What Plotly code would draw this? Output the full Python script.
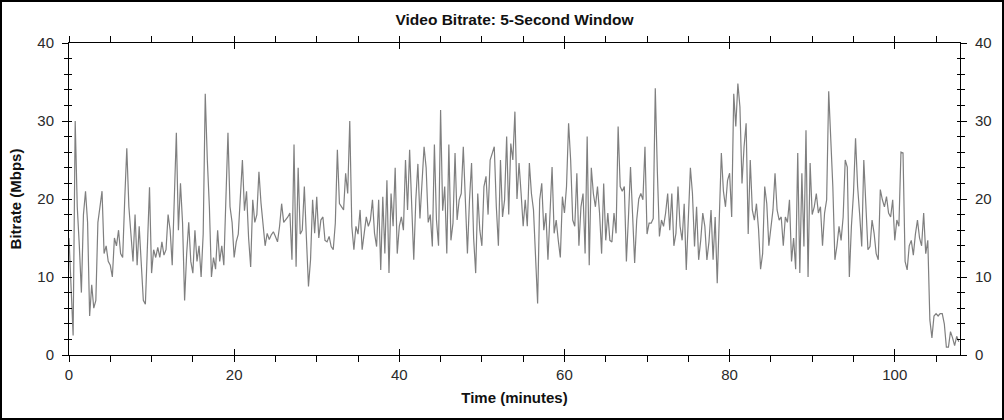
import plotly.graph_objects as go

# ---- data: bitrate (Mbps) sampled every 0.25 minute, split by time segment ----
step_min = 0.25

bitrate_00_21 = [
    15, 8, 2.5, 30, 19, 14, 8, 18, 21, 17,
    5, 9, 6, 7, 17, 19, 21, 13, 14, 12,
    11.5, 10, 15, 14, 16, 13, 12.5, 20, 26.5, 19,
    16, 12, 18, 11.5, 16.5, 12, 7, 6.5, 14, 21.5,
    10.5, 13.5, 12.5, 13.8, 12.5, 14.5, 12.8, 13.5, 18, 16,
    11.5, 21, 28.5, 16, 22, 17, 7, 13, 17, 12,
    10.5, 16, 12, 14, 10, 15.5, 33.5, 25, 19, 10,
    12.5, 11, 16, 12, 14, 11.5, 19, 28.5, 19, 17,
    12.5, 14.5, 15.5, 21, 25, 18.5, 21,
]
bitrate_22_43 = [
    15, 11.3, 19.9, 17, 18, 23.5, 19.5, 16.8, 14, 15.6,
    14.8, 15.4, 15.8, 15.2, 14.5, 16.5, 19.4, 17, 17.3, 17.7,
    18.2, 12.2, 27, 11.3, 24, 15.5, 16, 21.6, 15, 8.8,
    12.2, 19.9, 15.6, 20.3, 15, 17.3, 17.7, 14.7, 14.5, 15.2,
    13.9, 13.5, 16.9, 26.3, 19.4, 19, 18.6, 23.3, 20.7, 30,
    16.5, 13.5, 16.5, 15.5, 18.6, 13.5, 16, 17.7, 16.5, 17.3,
    19.9, 15.6, 13.9, 19.9, 10.9, 20.3, 13, 22.4, 10.5, 20.7,
    16.5, 24, 13, 16.5, 17.7, 16, 25, 18.6, 26.3, 18.5,
    12.2, 19.9, 24.5, 17.5, 22.9, 26.7,
]
bitrate_43_65 = [
    24, 17, 18, 13.9, 27, 17.3, 14, 31.4, 18.5, 21.6,
    13, 27, 14.7, 16.9, 25.9, 17.3, 19.9, 20.7, 26.7, 20.7,
    13, 19.9, 24.6, 15, 10.5, 20.7, 16, 14, 21.6, 22.9,
    18, 25, 26, 26.7, 19, 14, 25, 17.7, 19.9, 28,
    18, 27.1, 25, 31.2, 20, 24.6, 20.7, 16.5, 19.9, 16.5,
    24.6, 20.7, 18.6, 12.5, 6.6, 19.9, 22, 16, 18.2, 12.2,
    18.6, 24.1, 15.6, 17.3, 14.7, 12.5, 20.3, 18.2, 21.6, 29.7,
    25, 17.3, 16.5, 23.3, 14, 19, 20.7, 13, 28, 11.5,
    24, 20.7, 19, 21.6, 18.2, 13, 22, 14.7,
]
bitrate_65_87 = [
    18.2, 14.7, 14.5, 18.2, 15.6, 29.3, 21.6, 21, 21.6, 12,
    17.7, 24.1, 18, 11.8, 17.3, 20, 20.7, 19.9, 26.7, 15.5,
    16.9, 16.9, 17.5, 34.2, 23.5, 15.2, 17.3, 16.5, 18.2, 20.7,
    16, 20.7, 14, 15.6, 21.6, 16.5, 14.7, 19.4, 10.9, 17.3,
    24, 20.7, 13.9, 19, 12.2, 14.7, 18.2, 16.5, 12.2, 14.5,
    18.6, 12.2, 17.7, 9.2, 17.3, 25.9, 21, 19, 22.4, 23.3,
    17.7, 33.5, 29.3, 34.8, 31.8, 22, 26.7, 29.7, 15.5, 25,
    18.6, 17.3, 19.4, 16.2, 11, 13, 21.6, 19.4, 14, 16.5,
    18.6, 23.3, 18.6, 17.3, 17.7, 14, 17.7,
]
bitrate_87_108 = [
    17, 19.9, 12, 15, 11, 25.9, 10.5, 23.3, 13.9, 28.8,
    10, 24.6, 18, 19, 20.7, 18.2, 19, 14, 18.2, 19.9,
    33.8, 27, 21.6, 12.2, 14, 16.5, 14.7, 17.7, 25, 24.1,
    10, 16.5, 20.7, 27.8, 21.6, 18, 13.9, 25, 18, 13.5,
    13.9, 17.3, 15.6, 13, 12.2, 21.2, 19.9, 19, 20.3, 18.2,
    17.7, 19.9, 14.7, 17.3, 16.5, 26, 25.9, 12, 10.9, 14,
    14.7, 12.8, 15.5, 17.3, 15, 14, 18.2, 13, 14.7, 4.5,
    2.2, 5, 5.3, 5, 5.3, 5.3, 4, 1, 1, 3,
    2.2, 1.2, 2.4, 1.7,
]

bitrate = bitrate_00_21 + bitrate_22_43 + bitrate_43_65 + bitrate_65_87 + bitrate_87_108
time_min = [i * step_min for i in range(len(bitrate))]

x_ticks = [0, 20, 40, 60, 80, 100]
y_ticks = [0, 10, 20, 30, 40]
x_range = [0, 107.9]
y_range = [0, 40]

title_text = "Video Bitrate: 5-Second Window"
x_title = "Time (minutes)"
y_title = "Bitrate (Mbps)"

# ---- figure ----
W, H = 1004, 420
ML, MR, MT, MB = 69, 44, 43, 65
PW, PH = W - ML - MR, H - MT - MB
FONT = "Liberation Sans, Arial, sans-serif"
TICKFONT = dict(family=FONT, size=15, color="#2a2a2a")
LABELFONT = dict(family=FONT, size=15, color="#111")

fig = go.Figure()
fig.add_trace(go.Scatter(
    x=time_min, y=bitrate, mode="lines",
    line=dict(color="#7f7f7f", width=1.2), showlegend=False, hoverinfo="skip",
))
# invisible companion traces so that the extra (right / inner-tick) axes are drawn
for xa, ya in (("x", "y2"), ("x2", "y"), ("x", "y3")):
    fig.add_trace(go.Scatter(
        x=time_min[:1], y=bitrate[:1], mode="lines", xaxis=xa, yaxis=ya,
        line=dict(color="rgba(0,0,0,0)", width=0), showlegend=False, hoverinfo="skip",
    ))

axis_common = dict(
    showgrid=False, zeroline=False, showline=True, linecolor="black", linewidth=1,
    ticks="outside", ticklen=6, tickwidth=1, tickcolor="black",
    tickfont=TICKFONT,
)
inner_common = dict(
    showgrid=False, zeroline=False, showline=False, showticklabels=False,
    ticks="inside", tickwidth=1, tickcolor="black",
)

fig.update_layout(
    width=W, height=H,
    margin=dict(l=ML, r=MR, t=MT, b=MB, pad=0),
    paper_bgcolor="white", plot_bgcolor="white",
    title=dict(text=f"<b>{title_text}</b>", x=0.5, xref="paper", xanchor="center",
               y=1 - 20 / H, yref="container", yanchor="middle",
               font=dict(family=FONT, size=15.5, color="#111")),
    xaxis=dict(
        range=x_range, tickvals=x_ticks, mirror="allticks",
        minor=dict(dtick=5, tick0=0, ticks="outside", ticklen=4, tickcolor="black", showgrid=False),
        title=dict(text=f"<b>{x_title}</b>", font=LABELFONT, standoff=10),
        **axis_common,
    ),
    # inner half of the crossing major x ticks (bottom and top)
    xaxis2=dict(range=x_range, tickvals=x_ticks, overlaying="x", side="bottom", anchor="y",
                ticklen=6, mirror="ticks", **inner_common),
    yaxis=dict(
        range=y_range, tickvals=y_ticks, mirror=False, ticklabelstandoff=5,
        minor=dict(dtick=2, tick0=0, ticks="outside", ticklen=4, tickcolor="black", showgrid=False),
        title=dict(text=f"<b>{y_title}</b>", font=LABELFONT, standoff=12),
        **axis_common,
    ),
    yaxis2=dict(
        range=y_range, tickvals=y_ticks, overlaying="y", side="right", anchor="x",
        ticklabelstandoff=5,
        minor=dict(dtick=2, tick0=0, ticks="outside", ticklen=4, tickcolor="black", showgrid=False),
        **axis_common,
    ),
    # inner half of the crossing minor y ticks (left and right)
    yaxis3=dict(range=y_range, dtick=2, tick0=0, overlaying="y", side="left", anchor="x",
                ticklen=3, mirror="ticks", **inner_common),
    shapes=[dict(
        type="rect", xref="paper", yref="paper", layer="above",
        x0=-(ML - 1) / PW, x1=1 + (MR - 1) / PW,
        y0=-(MB - 1) / PH, y1=1 + (MT - 1) / PH,
        line=dict(color="black", width=2), fillcolor="rgba(0,0,0,0)",
    )],
)

fig.write_html(
    "out.html",
    config={"displayModeBar": False},
    post_script="document.body.style.margin='0';document.body.style.overflow='hidden';",
)
